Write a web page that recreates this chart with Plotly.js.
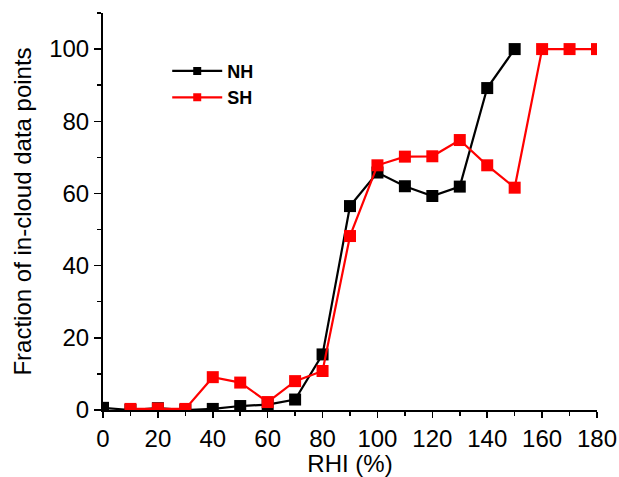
<!DOCTYPE html>
<html>
<head>
<meta charset="utf-8">
<script src="https://cdn.plot.ly/plotly-3.0.1.min.js"></script>
<style>html,body{margin:0;padding:0;background:#fff;}#chart{width:619px;height:477px;}</style>
</head>
<body>
<div id="chart"></div>
<script>
const nhX = [0,10,20,30,40,50,60,70,80,90,100,110,120,130,140,150];
const nhY = [0.6,0,0.5,0,0.3,1.1,1.5,2.9,15.4,56.5,65.8,62.0,59.3,61.9,89.2,100];
const shX = [10,20,30,40,50,60,70,80,90,100,110,120,130,140,150,160,170,180];
const shY = [0.3,0.4,0.3,9.1,7.6,2.2,8.0,10.8,48.2,67.8,70.2,70.3,74.8,67.8,61.6,100,100,100];
const xTicks = [0,20,40,60,80,100,120,140,160,180];
const yTicks = [0,20,40,60,80,100];
const seriesNames = ["NH", "SH"];
const seriesColors = ["#000000", "#ff0000"];

const font = "'Liberation Sans', Arial, sans-serif";
const traces = [
  {x: nhX, y: nhY, name: seriesNames[0], mode: "lines+markers", showlegend: false,
   line: {color: seriesColors[0], width: 2.2},
   marker: {symbol: "square", size: 12, color: seriesColors[0]}},
  {x: shX, y: shY, name: seriesNames[1], mode: "lines+markers", showlegend: false,
   line: {color: seriesColors[1], width: 2.2},
   marker: {symbol: "square", size: 12, color: seriesColors[1]}},
  {x: [null], y: [null], name: seriesNames[0], mode: "lines+markers",
   line: {color: seriesColors[0], width: 2.2},
   marker: {symbol: "square", size: 8, color: seriesColors[0]}},
  {x: [null], y: [null], name: seriesNames[1], mode: "lines+markers",
   line: {color: seriesColors[1], width: 2.2},
   marker: {symbol: "square", size: 8, color: seriesColors[1]}}
];
const layout = {
  width: 619, height: 477,
  margin: {l: 103, r: 22, t: 13, b: 67},
  paper_bgcolor: "#ffffff", plot_bgcolor: "#ffffff",
  font: {family: font, color: "#000000", size: 24},
  showlegend: true,
  legend: {x: 0.13, y: 0.9, xanchor: "left", yanchor: "top",
           font: {family: font, size: 18, color: "#000000", weight: "bold"},
           bgcolor: "rgba(0,0,0,0)", itemwidth: 50},
  xaxis: {range: [0, 180], tickvals: xTicks, ticktext: xTicks.map(String),
          showgrid: false, zeroline: false, showline: true, linecolor: "#000", linewidth: 2,
          ticks: "outside", ticklen: 6, tickwidth: 1.5, tickcolor: "#000",
          minor: {dtick: 10, ticks: "outside", ticklen: 4, tickwidth: 1.5, tickcolor: "#000"},
          tickfont: {size: 24}, title: {text: "RHI (%)", font: {size: 24}, standoff: 3}},
  yaxis: {range: [0, 110], tickvals: yTicks, ticktext: yTicks.map(String),
          showgrid: false, zeroline: false, showline: true, linecolor: "#000", linewidth: 2,
          ticks: "outside", ticklen: 7, tickwidth: 1.5, tickcolor: "#000",
          minor: {dtick: 10, ticks: "outside", ticklen: 4, tickwidth: 1.5, tickcolor: "#000"},
          tickfont: {size: 24}, title: {text: "Fraction of in-cloud data points", font: {size: 24}, standoff: 11}}
};
Plotly.newPlot("chart", traces, layout, {displayModeBar: false, staticPlot: true});
</script>
</body>
</html>
